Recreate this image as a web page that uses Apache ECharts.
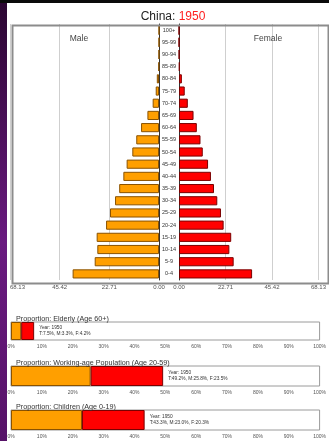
<!DOCTYPE html>
<html>
<head>
<meta charset="utf-8">
<script src="https://cdn.jsdelivr.net/npm/echarts@6/dist/echarts.min.js"></script>
<style>
  html, body { margin: 0; padding: 0; background: #fff; }
  #chart { width: 329px; height: 441px; }
</style>
</head>
<body>
<div id="chart"></div>
<script>
// Population pyramid, China 1950 (millions of people per five-year age group)
const year = '1950';
const ageGroups = ['0-4', '5-9', '10-14', '15-19', '20-24', '25-29', '30-34', '35-39', '40-44',
  '45-49', '50-54', '55-59', '60-64', '65-69', '70-74', '75-79', '80-84', '85-89', '90-94', '95-99', '100+'];
const maleMillions = [39.5, 29.4, 28.2, 28.5, 24.2, 22.4, 20.1, 18.2, 16.3,
  14.8, 12.2, 10.4, 8.2, 5.3, 2.9, 1.5, 1.0, 0.2, 0.05, 0.01, 0];
const femaleMillions = [35.7, 26.7, 24.6, 25.5, 21.8, 20.5, 18.7, 17.1, 15.6,
  14.2, 11.6, 10.5, 8.7, 7.1, 4.3, 2.8, 1.4, 0.3, 0.08, 0.01, 0];
const pyramidTickStep = 22.71;
const pyramidMax = 68.13;

// Share of total population by broad age band (percent)
const shareTitles = ['Proportion: Elderly (Age 60+)',
  'Proportion: Working-age Population (Age 20-59)',
  'Proportion: Children (Age 0-19)'];
const shareTotal = [7.5, 49.2, 43.3];
const shareMale = [3.3, 25.8, 23.0];
const shareFemale = [4.2, 23.5, 20.3];

const FONT = 'Liberation Sans, Arial, sans-serif';
const maleStyle = { color: '#ff9f00', borderColor: '#8a5200', borderWidth: 1 };
const femaleStyle = { color: '#ff0000', borderColor: '#7a0000', borderWidth: 1 };

const chart = echarts.init(document.getElementById('chart'), null, { renderer: 'canvas' });

const fmt2 = v => (Math.round(v * 100) / 100).toFixed(2);

// Bottom share panels: [top, height]
const shareBoxes = [[322, 18], [366, 20], [410, 20]];

const grids = [
  { left: 10, top: 24, width: 149, height: 256 },
  { left: 179, top: 24, width: 147, height: 256 }
];
const pyramidLabel = { fontSize: 6, color: '#555', fontFamily: FONT, margin: 4,
  showMinLabel: true, showMaxLabel: true, hideOverlap: false, formatter: fmt2 };
const xAxes = [
  { gridIndex: 0, type: 'value', inverse: true, min: 0, max: pyramidMax, interval: pyramidTickStep,
    axisLine: { show: false }, axisTick: { show: false },
    splitLine: { lineStyle: { color: '#cfcfcf', width: 1 } },
    axisLabel: Object.assign({}, pyramidLabel, { alignMaxLabel: 'left' }) },
  { gridIndex: 1, type: 'value', min: 0, max: pyramidMax, interval: pyramidTickStep,
    axisLine: { show: false }, axisTick: { show: false },
    splitLine: { lineStyle: { color: '#cfcfcf', width: 1 } },
    axisLabel: Object.assign({}, pyramidLabel, { alignMaxLabel: 'center' }) }
];
const yAxes = [
  { gridIndex: 0, type: 'category', data: ageGroups, position: 'right',
    axisLine: { lineStyle: { color: '#333', width: 1 } }, axisTick: { show: false },
    axisLabel: { fontSize: 5.5, color: '#333', fontFamily: FONT, align: 'center', margin: 10 } },
  { gridIndex: 1, type: 'category', data: ageGroups, position: 'left',
    axisLine: { lineStyle: { color: '#333', width: 1 } }, axisTick: { show: false },
    axisLabel: { show: false } }
];
const series = [
  { type: 'bar', xAxisIndex: 0, yAxisIndex: 0, data: maleMillions, barCategoryGap: '25%',
    itemStyle: maleStyle, silent: true },
  { type: 'bar', xAxisIndex: 1, yAxisIndex: 1, data: femaleMillions, barCategoryGap: '25%',
    itemStyle: femaleStyle, silent: true }
];
const titles = [
  { text: 'China: {y|' + year + '}', left: 168, top: 6, textAlign: 'center',
    textStyle: { fontSize: 12, fontWeight: 'normal', color: '#222', fontFamily: FONT,
      rich: { y: { fontSize: 12, color: '#ff2020', fontFamily: FONT } } } },
  { text: 'Male', left: 74, top: 29, textAlign: 'center',
    textStyle: { fontSize: 8.5, fontWeight: 'normal', color: '#444', fontFamily: FONT } },
  { text: 'Female', left: 263, top: 29, textAlign: 'center',
    textStyle: { fontSize: 8.5, fontWeight: 'normal', color: '#444', fontFamily: FONT } }
];

shareTitles.forEach((t, i) => {
  const gi = 2 + i;
  const [top, h] = shareBoxes[i];
  grids.push({ left: 11, top: top, width: 314, height: h, show: true,
    borderColor: '#9a9a9a', borderWidth: 1, backgroundColor: '#fff' });
  xAxes.push({ gridIndex: gi, type: 'value', min: 0, max: 100, interval: 10,
    axisLine: { show: false }, axisTick: { show: false }, splitLine: { show: false },
    axisLabel: { fontSize: 5, color: '#555', fontFamily: FONT, margin: 4,
      showMinLabel: true, showMaxLabel: true, hideOverlap: false,
      alignMinLabel: 'center', alignMaxLabel: 'center', formatter: '{value}%' } });
  yAxes.push({ gridIndex: gi, type: 'category', data: [year], show: false });
  series.push({ type: 'bar', xAxisIndex: gi, yAxisIndex: gi, stack: 's' + i,
    data: [shareMale[i]], barWidth: '100%', itemStyle: maleStyle, silent: true });
  series.push({ type: 'bar', xAxisIndex: gi, yAxisIndex: gi, stack: 's' + i,
    data: [shareFemale[i]], barWidth: '100%', itemStyle: femaleStyle, silent: true,
    label: { show: true, position: 'right', distance: 5, fontSize: 4.8, lineHeight: 6,
      color: '#333', fontFamily: FONT,
      formatter: () => 'Year: ' + year + '\nT:' + shareTotal[i].toFixed(1) + '%, M:' +
        shareMale[i].toFixed(1) + '%, F:' + shareFemale[i].toFixed(1) + '%' } });
  titles.push({ text: t, left: 11, top: top - 11,
    textStyle: { fontSize: 7.2, fontWeight: 'normal', color: '#333', fontFamily: FONT } });
});

chart.setOption({
  backgroundColor: '#ffffff',
  animation: false,
  title: titles,
  grid: grids,
  xAxis: xAxes,
  yAxis: yAxes,
  series: series,
  graphic: [
    { type: 'rect', left: 0, top: 0, z: 100,
      shape: { width: 7, height: 441 },
      style: { fill: new echarts.graphic.LinearGradient(0, 0, 0, 1, [
        { offset: 0, color: '#2a0530' }, { offset: 0.55, color: '#6a1a80' }, { offset: 1, color: '#561268' }]) } },
    { type: 'rect', left: 0, top: 0, z: 100,
      shape: { width: 329, height: 3 }, style: { fill: '#0a0a0a' } },
    { type: 'rect', left: 10, top: 23, z: 100,
      shape: { width: 316, height: 258 },
      style: { fill: 'none', stroke: '#8c8c8c', lineWidth: 2 } }
  ]
});
</script>
</body>
</html>
